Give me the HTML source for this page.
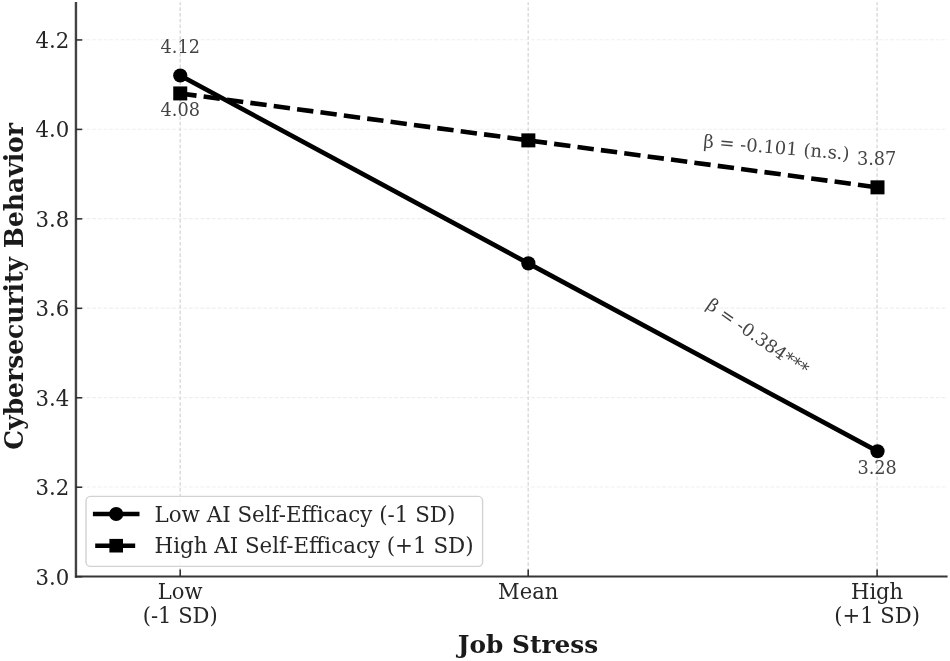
<!DOCTYPE html>
<html lang="en"><head><meta charset="utf-8"><title>Job Stress x AI Self-Efficacy</title>
<style>
html,body{margin:0;padding:0;background:#fff;}
body{width:950px;height:661px;overflow:hidden;}
svg{display:block;}
text{font-family:"DejaVu Serif","Liberation Serif",serif;}
.tick{font-size:21.3px;fill:#262626;}
.leg{font-size:21.4px;fill:#262626;}
.lab{font-size:24.8px;font-weight:bold;fill:#1a1a1a;}
.val{font-size:17.7px;fill:#444444;}
.beta{font-size:18px;fill:#444444;}
</style></head><body>
<svg width="950" height="661" viewBox="0 0 950 661">
<rect width="950" height="661" fill="#ffffff"/>

<g stroke="#efefef" stroke-width="1.1" stroke-dasharray="3.85 1.85" stroke-dashoffset="0.9" fill="none">
<line x1="75.95" x2="947.6" y1="487.04" y2="487.04"/>
<line x1="75.95" x2="947.6" y1="397.58" y2="397.58"/>
<line x1="75.95" x2="947.6" y1="308.12" y2="308.12"/>
<line x1="75.95" x2="947.6" y1="218.66" y2="218.66"/>
<line x1="75.95" x2="947.6" y1="129.20" y2="129.20"/>
<line x1="75.95" x2="947.6" y1="39.74" y2="39.74"/>
</g>
<g stroke="#d6d6d6" stroke-width="1.3" stroke-dasharray="3.6 2.122" stroke-dashoffset="0.9" fill="none">
<line x1="180.2" x2="180.2" y1="576.5" y2="2.2"/>
<line x1="528.2" x2="528.2" y1="576.5" y2="2.2"/>
<line x1="877.1" x2="877.1" y1="576.5" y2="2.2"/>
</g>
<g stroke="#424242" fill="none" stroke-linecap="square">
<line x1="75.95" x2="75.95" y1="3.2" y2="576.5" stroke-width="2.4"/>
<line x1="75.95" x2="946.6" y1="576.5" y2="576.5" stroke-width="2.0" stroke="#363636"/>
</g>
<g stroke="#2e2e2e" stroke-width="1.55" fill="none">
<line x1="75.95" x2="82.25" y1="576.70" y2="576.70"/>
<line x1="75.95" x2="82.25" y1="487.24" y2="487.24"/>
<line x1="75.95" x2="82.25" y1="397.78" y2="397.78"/>
<line x1="75.95" x2="82.25" y1="308.32" y2="308.32"/>
<line x1="75.95" x2="82.25" y1="218.86" y2="218.86"/>
<line x1="75.95" x2="82.25" y1="129.40" y2="129.40"/>
<line x1="75.95" x2="82.25" y1="39.94" y2="39.94"/>
<line x1="180.2" x2="180.2" y1="576.5" y2="569.5"/>
<line x1="528.2" x2="528.2" y1="576.5" y2="569.5"/>
<line x1="877.1" x2="877.1" y1="576.5" y2="569.5"/>
</g>
<text class="tick" style="font-size:21.5px" transform="translate(69.35000000000001 584.80) scale(0.99 1)" text-anchor="end">3.0</text>
<text class="tick" style="font-size:21.5px" transform="translate(69.35000000000001 495.34) scale(0.99 1)" text-anchor="end">3.2</text>
<text class="tick" style="font-size:21.5px" transform="translate(69.35000000000001 405.88) scale(0.99 1)" text-anchor="end">3.4</text>
<text class="tick" style="font-size:21.5px" transform="translate(69.35000000000001 316.42) scale(0.99 1)" text-anchor="end">3.6</text>
<text class="tick" style="font-size:21.5px" transform="translate(69.35000000000001 226.96) scale(0.99 1)" text-anchor="end">3.8</text>
<text class="tick" style="font-size:21.5px" transform="translate(69.35000000000001 136.80) scale(0.99 1)" text-anchor="end">4.0</text>
<text class="tick" style="font-size:21.5px" transform="translate(69.35000000000001 48.04) scale(0.99 1)" text-anchor="end">4.2</text>
<text class="tick" style="font-size:21.8px" transform="translate(180.2 598.6) scale(0.968 1)" text-anchor="middle">Low</text>
<text class="tick" style="font-size:21.8px" transform="translate(180.2 622.8) scale(0.968 1)" text-anchor="middle">(-1 SD)</text>
<text class="tick" style="font-size:21.8px" transform="translate(528.2 598.6) scale(0.968 1)" text-anchor="middle">Mean</text>
<text class="tick" style="font-size:21.8px" transform="translate(877.1 598.6) scale(0.968 1)" text-anchor="middle">High</text>
<text class="tick" style="font-size:21.8px" transform="translate(877.1 622.8) scale(0.968 1)" text-anchor="middle">(+1 SD)</text>
<text class="lab" x="528" y="653.2" text-anchor="middle">Job Stress</text>
<text class="lab" transform="translate(23.3 286.4) rotate(-90) scale(0.972 1)" style="font-size:25.7px" text-anchor="middle">Cybersecurity Behavior</text>
<polyline points="180.25,75.52 528.35,263.39 877.50,451.26" fill="none" stroke="#000" stroke-width="4.6" stroke-linecap="square" stroke-linejoin="round"/>
<polyline points="180.25,93.42 528.35,140.38 877.50,187.35" fill="none" stroke="#000" stroke-width="4.6" stroke-dasharray="16.4 7.18" stroke-linejoin="round"/>
<circle cx="180.25" cy="75.52" r="7.1" fill="#000"/>
<circle cx="528.35" cy="263.39" r="7.1" fill="#000"/>
<circle cx="877.50" cy="451.26" r="7.1" fill="#000"/>
<rect x="173.25" y="86.42" width="14" height="14" fill="#000"/>
<rect x="521.35" y="133.38" width="14" height="14" fill="#000"/>
<rect x="870.50" y="180.35" width="14" height="14" fill="#000"/>
<text class="val" x="180.2" y="53.3" text-anchor="middle">4.12</text>
<text class="val" x="180.2" y="115.9" text-anchor="middle">4.08</text>
<text class="val" x="876.6" y="165.1" text-anchor="middle">3.87</text>
<text class="val" x="877.1" y="473.5" text-anchor="middle">3.28</text>
<text class="beta" transform="translate(703 147.2) rotate(5.0)">β = -0.101 (n.s.)</text>
<text class="beta" style="font-size:17.7px" transform="translate(705.3 307.6) rotate(35)">β = -0.384***</text>
<rect x="86.0" y="496.4" width="396.6" height="70" rx="4.5" ry="4.5" fill="#ffffff" fill-opacity="0.85" stroke="#d2d2d2" stroke-width="1.4"/>
<line x1="95.2" x2="137.2" y1="514" y2="514" stroke="#000" stroke-width="4.6" stroke-linecap="square"/>
<circle cx="116.2" cy="514" r="7.1" fill="#000"/>
<line x1="95.2" x2="137.2" y1="545.7" y2="545.7" stroke="#000" stroke-width="4.6" stroke-dasharray="16.4 7.18"/>
<rect x="109.4" y="538.9000000000001" width="13.6" height="13.6" fill="#000"/>
<text class="leg" x="154.5" y="521.5">Low AI Self-Efficacy (-1 SD)</text>
<text class="leg" x="154.5" y="552.8">High AI Self-Efficacy (+1 SD)</text>
</svg></body></html>
